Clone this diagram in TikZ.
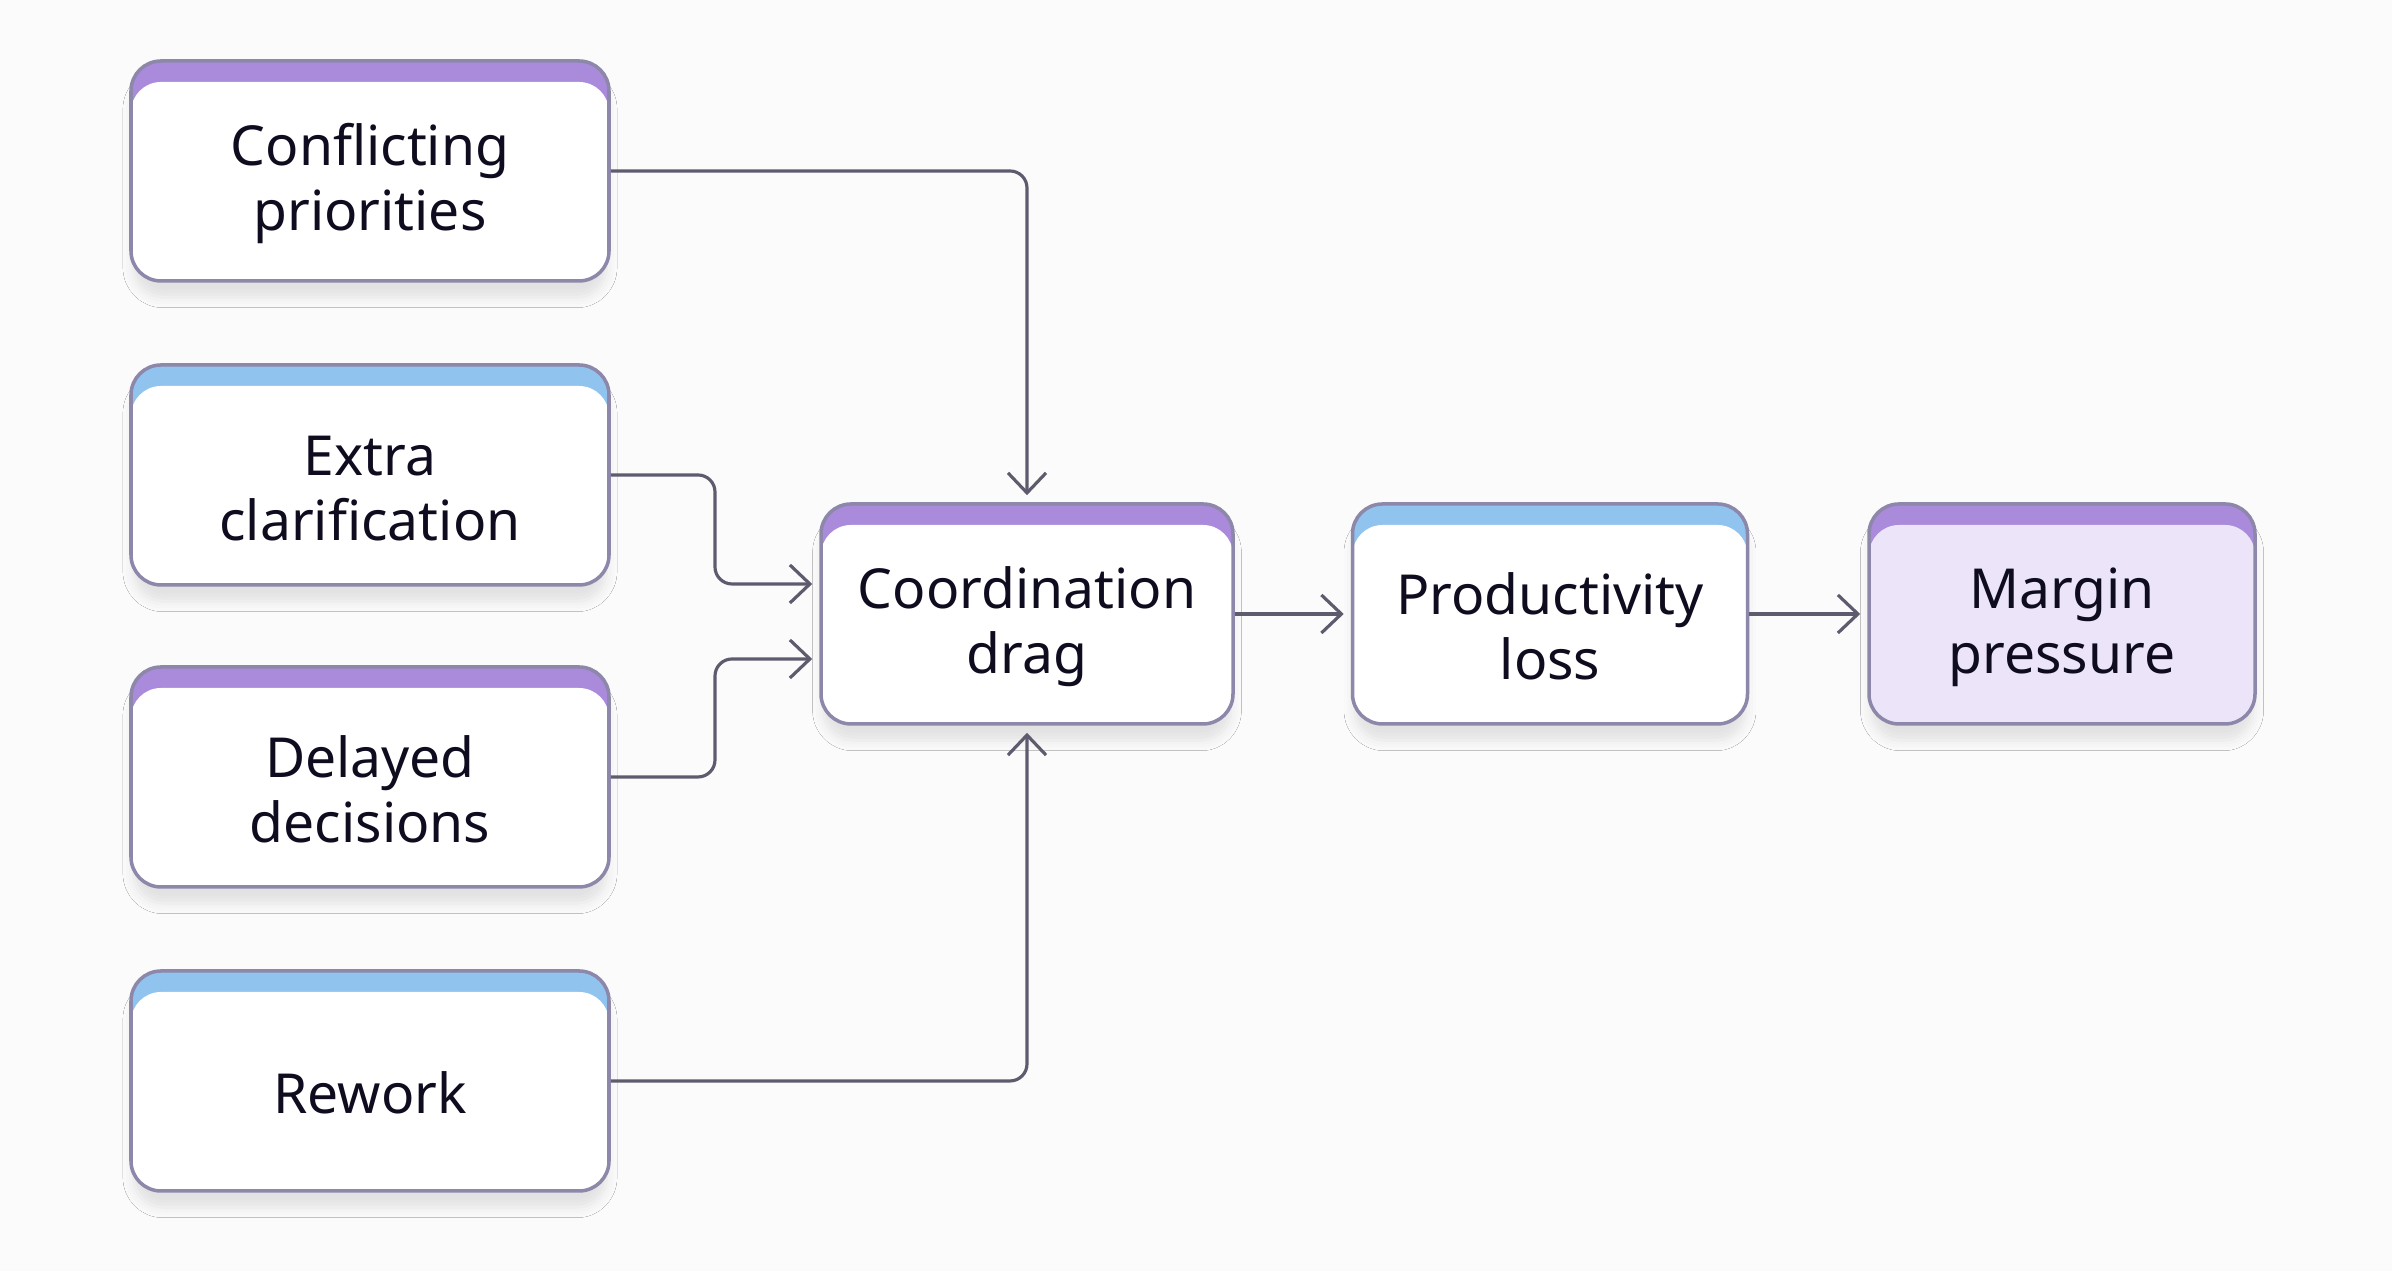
\documentclass[tikz,border=0pt]{standalone}
\usepackage{fontspec}
\setmainfont{Noto Sans}
\usepackage{xcolor}
\usepackage{tikz}
\usetikzlibrary{calc}
\usetikzlibrary{arrows.meta}
\usetikzlibrary{shadows.blur}
\definecolor{bandP}{RGB}{170,138,219}
\definecolor{bandB}{RGB}{144,195,238}
\definecolor{edgeC}{RGB}{141,135,170}
\definecolor{lineC}{RGB}{93,92,110}
\definecolor{inkC}{RGB}{14,12,30}
\definecolor{paleP}{RGB}{236,229,250}
\definecolor{bgC}{RGB}{251,251,251}
\def\lift{\rule{0pt}{18.9pt}}
\tikzset{
	card/.style 2 args={draw=edgeC,line width=1pt,rounded corners=0.3cm,minimum height=2.2cm,align=center,text=inkC,
		font=\fontsize{15.7}{18.5}\selectfont,
		blur shadow={shadow xshift=0pt,shadow yshift=-5pt,shadow blur radius=3pt,shadow opacity=10,shadow scale=0.99},
		path picture={
			\fill[#1] (path picture bounding box.south west) rectangle (path picture bounding box.north east);
			\fill[#2,rounded corners=0.3cm] (path picture bounding box.south west) rectangle ([yshift=-0.21cm]path picture bounding box.north east);
		}},
	conn/.style={draw=lineC,line width=0.9pt,rounded corners=0.17cm,-{Straight Barb[length=0.2cm,width=0.38cm]},shorten >=2pt}
}

\begin{document}
\begin{tikzpicture}
	\fill[bgC] (0,0) rectangle (23.92,12.71);
	\useasboundingbox (0,0) rectangle (23.92,12.71);
	\node[card={bandP}{white},minimum width=4.78cm] (conf) at (3.70,11.00) {\lift Conflicting\\priorities};
	\node[card={bandB}{white},minimum width=4.78cm] (extra) at (3.70,7.96) {\lift Extra\\clarification};
	\node[card={bandP}{white},minimum width=4.78cm] (delay) at (3.70,4.94) {\lift Delayed\\decisions};
	\node[card={bandB}{white},minimum width=4.78cm] (rework) at (3.70,1.90) {\lift Rework};
	\node[card={bandP}{white},minimum width=4.12cm] (coord) at (10.27,6.57) {\lift Coordination\\drag};
	\node[card={bandB}{white},minimum width=3.95cm] (prod) at (15.50,6.57) {\lift Productivity\\loss};
	\node[card={bandP}{paleP},minimum width=3.86cm] (margin) at (20.62,6.57) {\lift Margin\\pressure};
	\draw[conn] (conf.east) -| (coord.north);
	\draw[conn] (extra.east) -| ($(extra.east)!.5!(coord.west)$) |- ([yshift=0.3cm]coord.west);
	\draw[conn] (delay.east) -| ($(delay.east)!.5!(coord.west)$) |- ([yshift=-0.45cm]coord.west);
	\draw[conn] (rework.east) -| (coord.south);
	\draw[conn] (coord) -- (prod);
	\draw[conn] (prod) -- (margin);
\end{tikzpicture}
\end{document}
